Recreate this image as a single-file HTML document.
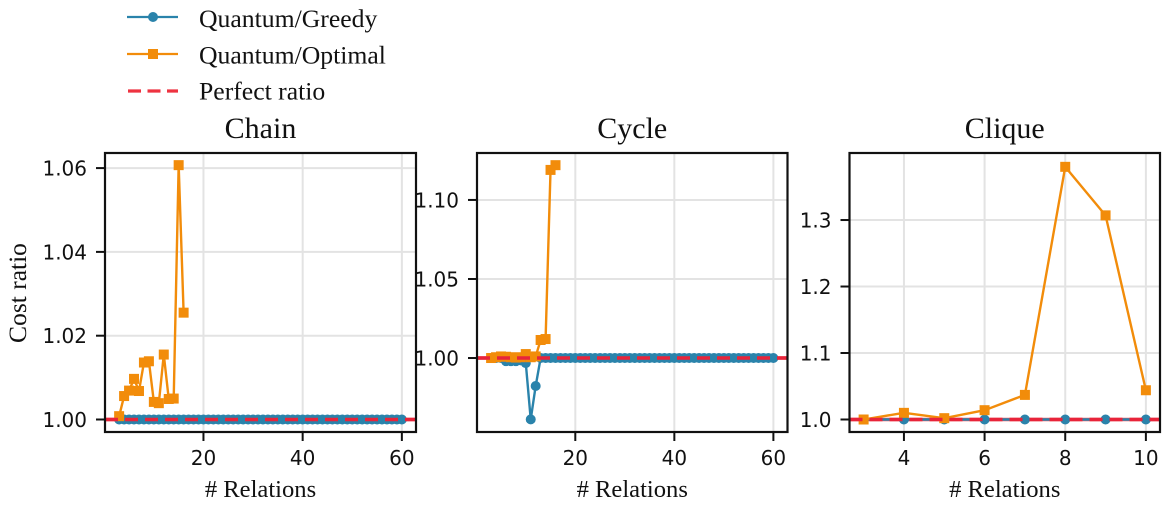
<!DOCTYPE html>
<html>
<head>
<meta charset="utf-8">
<style>
html,body{margin:0;padding:0;background:#fff;width:1170px;height:506px;overflow:hidden}
svg{display:block;filter:blur(0.35px)}
.serif{font-family:"Liberation Serif",serif;fill:#111}
.tick{font-family:"DejaVu Sans",sans-serif;fill:#111;font-size:20px}
</style>
</head>
<body>
<svg id="fig" width="1170" height="506" viewBox="0 0 1170 506" xmlns="http://www.w3.org/2000/svg">
  <g>
    <g>
      <line x1="127" x2="178" y1="17" y2="17" stroke="#2a83ab" stroke-width="2.2"/>
      <circle cx="153" cy="17" r="5" fill="#2a83ab"/>
      <text class="serif" x="199" y="27" font-size="25.700">Quantum/Greedy</text>
    </g>
    <g>
      <line x1="127" x2="178" y1="54" y2="54" stroke="#f28c0a" stroke-width="2.2"/>
      <rect x="148" y="49" width="10" height="10" fill="#f28c0a"/>
      <text class="serif" x="199" y="63.500" font-size="25.700">Quantum/Optimal</text>
    </g>
    <g>
      <line x1="128" x2="178" y1="91" y2="91" stroke="#ee3340" stroke-width="3.2" stroke-dasharray="13 6.500"/>
      <text class="serif" x="199" y="99.500" font-size="25.700">Perfect ratio</text>
    </g>
  </g>
</svg>
<script>
const relationsLong = [3,4,5,6,7,8,9,10,11,12,13,14,15,16,17,18,19,20,21,22,23,24,25,26,27,28,29,30,31,32,33,34,35,36,37,38,39,40,41,42,43,44,45,46,47,48,49,50,51,52,53,54,55,56,57,58,59,60];
const relationsShort = [3,4,5,6,7,8,9,10,11,12,13,14,15,16];
const relationsClique = [3,4,5,6,7,8,9,10];

const chainGreedy = [1,1,1,1,1,1,1,1,1,1,1,1,1,1,1,1,1,1,1,1,1,1,1,1,1,1,1,1,1,1,1,1,1,1,1,1,1,1,1,1,1,1,1,1,1,1,1,1,1,1,1,1,1,1,1,1,1,1];
const chainOptimal = [1.0008,1.0056,1.0069,1.0097,1.0068,1.0136,1.0139,1.0042,1.0039,1.0155,1.0049,1.0050,1.0607,1.0255];

const cycleGreedy = [1,1,1,0.998,0.998,0.998,0.9985,0.9968,0.9612,0.9823,1,1,1,1,1,1,1,1,1,1,1,1,1,1,1,1,1,1,1,1,1,1,1,1,1,1,1,1,1,1,1,1,1,1,1,1,1,1,1,1,1,1,1,1,1,1,1,1];
const cycleOptimal = [1.000,1.0005,1.001,1.0008,1.0005,1.0003,1.0005,1.0025,1.0005,1.001,1.0114,1.012,1.119,1.122];

const cliqueGreedy = [1,1,1,1,1,1,1,1];
const cliqueOptimal = [1.000,1.010,1.002,1.014,1.037,1.380,1.307,1.044];

const chainXTicks = [20,40,60];
const chainYTicks = ["1.00","1.02","1.04","1.06"];
const cycleXTicks = [20,40,60];
const cycleYTicks = ["1.00","1.05","1.10"];
const cliqueXTicks = [4,6,8,10];
const cliqueYTicks = ["1.0","1.1","1.2","1.3"];

const perfectRatio = 1;

const BLUE = '#2a83ab', ORANGE = '#f28c0a', RED = '#ee3340';
const NS = 'http://www.w3.org/2000/svg';
const fig = document.getElementById('fig');

function mk(parent, tag, attrs, text) {
  const el = document.createElementNS(NS, tag);
  for (const k in attrs) el.setAttribute(k, attrs[k]);
  if (text !== undefined) el.textContent = text;
  parent.appendChild(el);
  return el;
}

function polyPoints(xs, ys, sx, sy) {
  return xs.map((v, i) => sx(v).toFixed(2) + ',' + sy(ys[i]).toFixed(2)).join(' ');
}

function drawChart(key, title, box, xlim, ylim, xTicks, yTicks, xsG, greedy, xsO, optimal, showYLabel) {
  const top = 153, bottom = 432;
  const sx = v => box.l + (v - xlim[0]) / (xlim[1] - xlim[0]) * (box.r - box.l);
  const sy = v => bottom - (v - ylim[0]) / (ylim[1] - ylim[0]) * (bottom - top);

  const g = mk(fig, 'g', {});
  
  

  const clip = mk(g, 'clipPath', {id: 'clip-' + key});
  mk(clip, 'rect', {x: box.l, y: top, width: box.r - box.l, height: bottom - top});

  const t = mk(g, 'text', {class: 'serif', x: (box.l + box.r) / 2, y: 138, 'font-size': 30, 'text-anchor': 'middle'}, title);
  
  

  xTicks.forEach(v => {
    const grid = mk(g, 'line', {x1: sx(v), x2: sx(v), y1: top, y2: bottom, stroke: '#e3e3e3', 'stroke-width': 2});
    
    
    const tk = mk(g, 'line', {x1: sx(v), x2: sx(v), y1: bottom, y2: bottom + 9, stroke: '#111', 'stroke-width': 2});
    
    
    const lb = mk(g, 'text', {class: 'tick', x: sx(v), y: 465, 'text-anchor': 'middle'}, v);
    
    
  });
  yTicks.forEach(s => {
    const v = parseFloat(s);
    const grid = mk(g, 'line', {x1: box.l, x2: box.r, y1: sy(v), y2: sy(v), stroke: '#e3e3e3', 'stroke-width': 2});
    
    
    const tk = mk(g, 'line', {x1: box.l - 9, x2: box.l, y1: sy(v), y2: sy(v), stroke: '#111', 'stroke-width': 2});
    
    
    const lb = mk(g, 'text', {class: 'tick', x: box.l - 18, y: sy(v) + 7.5, 'text-anchor': 'end'}, s);
    
    
  });

  const plot = mk(g, 'g', {'clip-path': 'url(#clip-' + key + ')'});
  
  

  const under = mk(plot, 'line', {x1: box.l, x2: box.r, y1: sy(perfectRatio), y2: sy(perfectRatio), stroke: '#f8444c', 'stroke-width': 3.5, opacity: 0.95});
  
  

  const gLine = mk(plot, 'polyline', {points: polyPoints(xsG, greedy, sx, sy), fill: 'none', stroke: BLUE, 'stroke-width': 2.4});
  
  
  xsG.forEach((v, i) => {
    const c = mk(plot, 'circle', {cx: sx(v), cy: sy(greedy[i]), r: 5, fill: BLUE});
    
    
  });

  const oLine = mk(plot, 'polyline', {points: polyPoints(xsO, optimal, sx, sy), fill: 'none', stroke: ORANGE, 'stroke-width': 2.4});
  
  
  xsO.forEach((v, i) => {
    const r = mk(plot, 'rect', {x: sx(v) - 5, y: sy(optimal[i]) - 5, width: 10, height: 10, fill: ORANGE});
    
    
  });

  const dash = mk(plot, 'line', {x1: box.l, x2: box.r, y1: sy(perfectRatio), y2: sy(perfectRatio), stroke: '#e8243a', 'stroke-width': 3.5, 'stroke-dasharray': '13 7'});
  
  

  const frame = mk(g, 'rect', {x: box.l, y: top, width: box.r - box.l, height: bottom - top, fill: 'none', stroke: '#111', 'stroke-width': 2.2});
  
  

  const xl = mk(g, 'text', {class: 'serif', x: (box.l + box.r) / 2, y: 497, 'font-size': 24.6, 'text-anchor': 'middle'}, '# Relations');
  
  

  if (showYLabel) {
    const yl = mk(g, 'text', {class: 'serif', x: 0, y: 0, 'font-size': 25.5, 'text-anchor': 'middle', transform: 'translate(26 293) rotate(-90)'}, 'Cost ratio');
    
    
  }
}

drawChart('chain', 'Chain', {l:105, r:416}, [0.15,62.85], [0.99702,1.0636], chainXTicks, chainYTicks, relationsLong, chainGreedy, relationsShort, chainOptimal, true);
drawChart('cycle', 'Cycle', {l:477, r:787.5}, [0.15,62.85], [0.9532,1.1297], cycleXTicks, cycleYTicks, relationsLong, cycleGreedy, relationsShort, cycleOptimal, false);
drawChart('clique', 'Clique', {l:849.5, r:1160}, [2.65,10.35], [0.9812,1.4008], cliqueXTicks, cliqueYTicks, relationsClique, cliqueGreedy, relationsClique, cliqueOptimal, false);
</script>
</body>
</html>
